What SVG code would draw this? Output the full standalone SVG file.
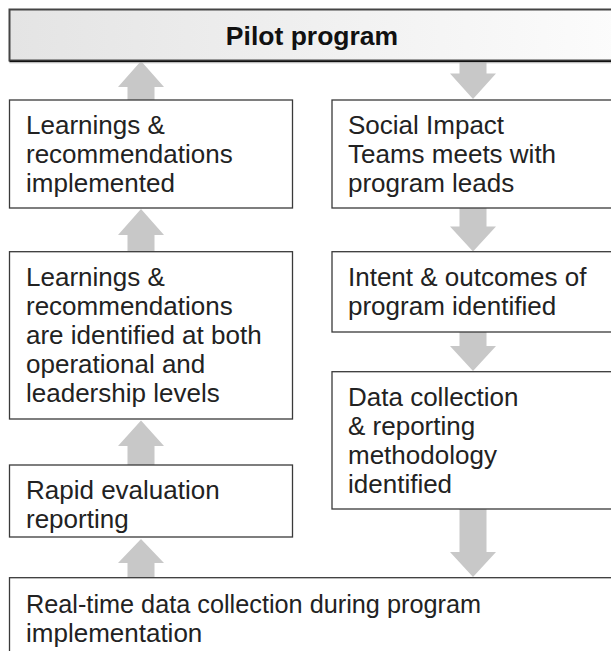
<svg xmlns="http://www.w3.org/2000/svg" width="611" height="651" viewBox="0 0 611 651">
  <style>
    .box { fill: #ffffff; stroke: #3a3a3a; stroke-width: 1.3; }
    .txt { font-family: "Liberation Sans", Arial, sans-serif; font-size: 26px; fill: #222222; }
    .title { font-family: "Liberation Sans", Arial, sans-serif; font-size: 26.5px; font-weight: bold; fill: #111111; text-anchor: middle; }
    .arrow { fill: #c8c8c8; stroke: none; }
  </style>
  <defs>
    <linearGradient id="topGrad" x1="0" y1="0" x2="1" y2="0">
      <stop offset="0" stop-color="#e4e4e4"/>
      <stop offset="1" stop-color="#fcfcfc"/>
    </linearGradient>
  </defs>
  <rect width="611" height="651" fill="#ffffff"/>

  <g id="connectors">
    <polygon class="arrow" points="141,61 164,87 154.5,87 154.5,100 127.5,100 127.5,87 118,87"/>
    <polygon class="arrow" points="141,209 164,235 154.5,235 154.5,252 127.5,252 127.5,235 118,235"/>
    <polygon class="arrow" points="141,420.5 164,446 154.5,446 154.5,465 127.5,465 127.5,446 118,446"/>
    <polygon class="arrow" points="141,539 164,563 154.5,563 154.5,578 127.5,578 127.5,563 118,563"/>
    <polygon class="arrow" points="459.5,61 486.5,61 486.5,73.5 496,73.5 473,99 450,73.5 459.5,73.5"/>
    <polygon class="arrow" points="459.5,208 486.5,208 486.5,226.5 496,226.5 473,251.5 450,226.5 459.5,226.5"/>
    <polygon class="arrow" points="459.5,332 486.5,332 486.5,346 496,346 473,371 450,346 459.5,346"/>
    <polygon class="arrow" points="459.5,509 486.5,509 486.5,552 496,552 473,577 450,552 459.5,552"/>
  </g>

  <g id="pilot">
    <rect x="9.5" y="9.5" width="610" height="51" fill="url(#topGrad)" stroke="#444444" stroke-width="2"/>
    <line x1="9.5" y1="61.5" x2="611" y2="61.5" stroke="#111111" stroke-width="1.5"/>
    <line x1="9.5" y1="62.8" x2="611" y2="62.8" stroke="#bbbbbb" stroke-width="1"/>
    <text class="title" x="312" y="45">Pilot program</text>
  </g>

  <g id="learnings-implemented">
    <rect class="box" x="9.5" y="100" width="283" height="108"/>
    <text class="txt" x="26" y="134">Learnings &amp;</text>
    <text class="txt" x="26" y="163">recommendations</text>
    <text class="txt" x="26" y="192">implemented</text>
  </g>

  <g id="learnings-identified">
    <rect class="box" x="9.5" y="251.7" width="283" height="167.3"/>
    <text class="txt" x="26" y="285.5">Learnings &amp;</text>
    <text class="txt" x="26" y="314.7">recommendations</text>
    <text class="txt" x="26" y="343.9">are identified at both</text>
    <text class="txt" x="26" y="373.1">operational and</text>
    <text class="txt" x="26" y="402.3">leadership levels</text>
  </g>

  <g id="rapid-evaluation">
    <rect class="box" x="9.5" y="465" width="283" height="72"/>
    <text class="txt" x="26" y="499">Rapid evaluation</text>
    <text class="txt" x="26" y="528">reporting</text>
  </g>

  <g id="social-impact">
    <rect class="box" x="332" y="100" width="290" height="108"/>
    <text class="txt" x="348" y="134">Social Impact</text>
    <text class="txt" x="348" y="163">Teams meets with</text>
    <text class="txt" x="348" y="192">program leads</text>
  </g>

  <g id="intent-outcomes">
    <rect class="box" x="332" y="251.7" width="290" height="80.3"/>
    <text class="txt" x="348" y="285.5">Intent &amp; outcomes of</text>
    <text class="txt" x="348" y="314.7">program identified</text>
  </g>

  <g id="data-methodology">
    <rect class="box" x="332" y="371.7" width="290" height="137.3"/>
    <text class="txt" x="348" y="405.7">Data collection</text>
    <text class="txt" x="348" y="434.9">&amp; reporting</text>
    <text class="txt" x="348" y="464.1">methodology</text>
    <text class="txt" x="348" y="493.3">identified</text>
  </g>

  <g id="real-time">
    <rect class="box" x="9.5" y="577.7" width="620" height="90"/>
    <text class="txt" x="26" y="612.5" textLength="455" lengthAdjust="spacingAndGlyphs">Real-time data collection during program</text>
    <text class="txt" x="26" y="641.5">implementation</text>
  </g>
</svg>
